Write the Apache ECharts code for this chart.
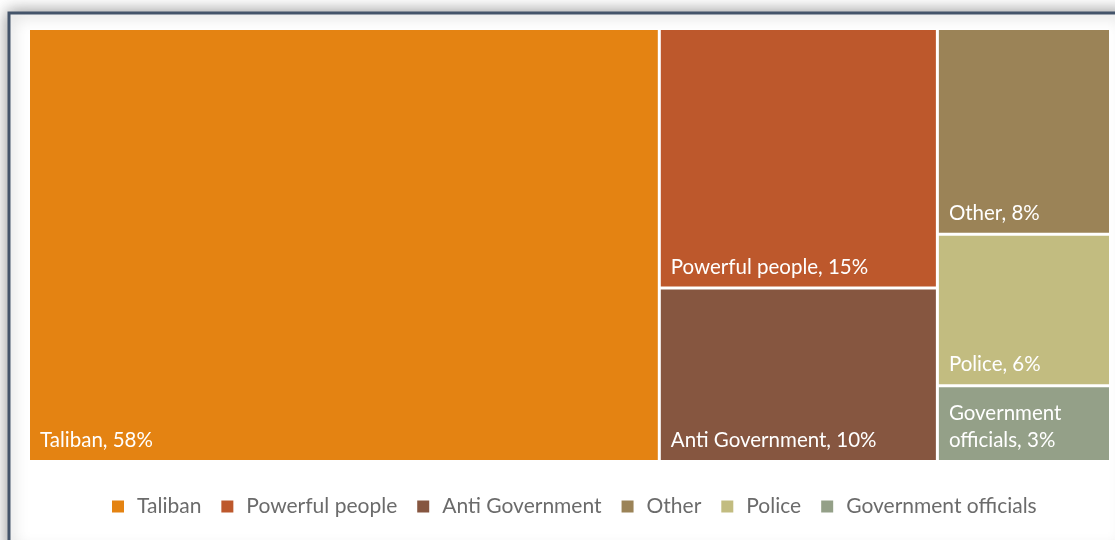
<!DOCTYPE html>
<html>
<head>
<meta charset="utf-8">
<script src="https://cdn.jsdelivr.net/npm/echarts@6/dist/echarts.min.js"></script>
<style>
html,body{margin:0;padding:0;background:#fff;}
#c{width:1115px;height:540px;}
</style>
</head>
<body>
<div id="c"></div>
<script>
const categories = ['Taliban', 'Powerful people', 'Anti Government', 'Other', 'Police', 'Government officials'];
// shares (labels show the rounded percentages)
const values = [58.3, 15.4, 10.3, 7.6, 5.6, 2.8];
const labelTexts = ['Taliban, 58%', 'Powerful people, 15%', 'Anti Government, 10%', 'Other, 8%', 'Police, 6%', 'Government\nofficials, 3%'];
const colors = ['#E48312', '#BD582C', '#865640', '#9B8357', '#C2BC80', '#94A088'];

const chart = echarts.init(document.getElementById('c'), null, {renderer: 'canvas'});

const treeData = categories.map((n, i) => ({
  name: n,
  value: values[i],
  itemStyle: {color: colors[i]},
  label: {formatter: labelTexts[i]}
}));
const legendData = categories.map((n, i) => ({
  name: n, value: values[i], itemStyle: {color: colors[i]}
}));

chart.setOption({
  animation: false,
  backgroundColor: '#ffffff',
  graphic: [
    {
      type: 'rect', z: -10, silent: true,
      shape: {x: 9, y: 13, width: 1120, height: 540},
      style: {fill: '#ffffff', stroke: '#44546A', lineWidth: 3,
        shadowBlur: 16, shadowColor: 'rgba(0,0,0,0.4)', shadowOffsetX: 0, shadowOffsetY: 0}
    }
  ],
  legend: {
    data: categories,
    left: 107,
    top: 491,
    icon: 'rect',
    itemWidth: 12,
    itemHeight: 12,
    itemGap: 20,
    textStyle: {color: '#6b6b6b', fontSize: 21, fontFamily: 'Lato', padding: [0, 0, 0, 8]},
    selectedMode: false
  },
  series: [
    {
      type: 'pie',
      name: 'legendProxy',
      radius: [0, 0],
      center: [-100, -100],
      silent: true,
      label: {show: false},
      labelLine: {show: false},
      data: legendData
    },
    {
      type: 'treemap',
      left: 30, top: 30, width: 1079, height: 430,
      roam: false,
      nodeClick: false,
      breadcrumb: {show: false},
      itemStyle: {gapWidth: 3, borderWidth: 0, borderColor: '#ffffff'},
      label: {
        show: true,
        position: 'insideBottomLeft',
        distance: 0,
        padding: [0, 0, 6, 10],
        color: '#ffffff',
        fontSize: 20.5,
        fontFamily: 'Lato',
        lineHeight: 27
      },
      upperLabel: {show: false},
      data: treeData
    }
  ]
});
</script>
</body>
</html>
